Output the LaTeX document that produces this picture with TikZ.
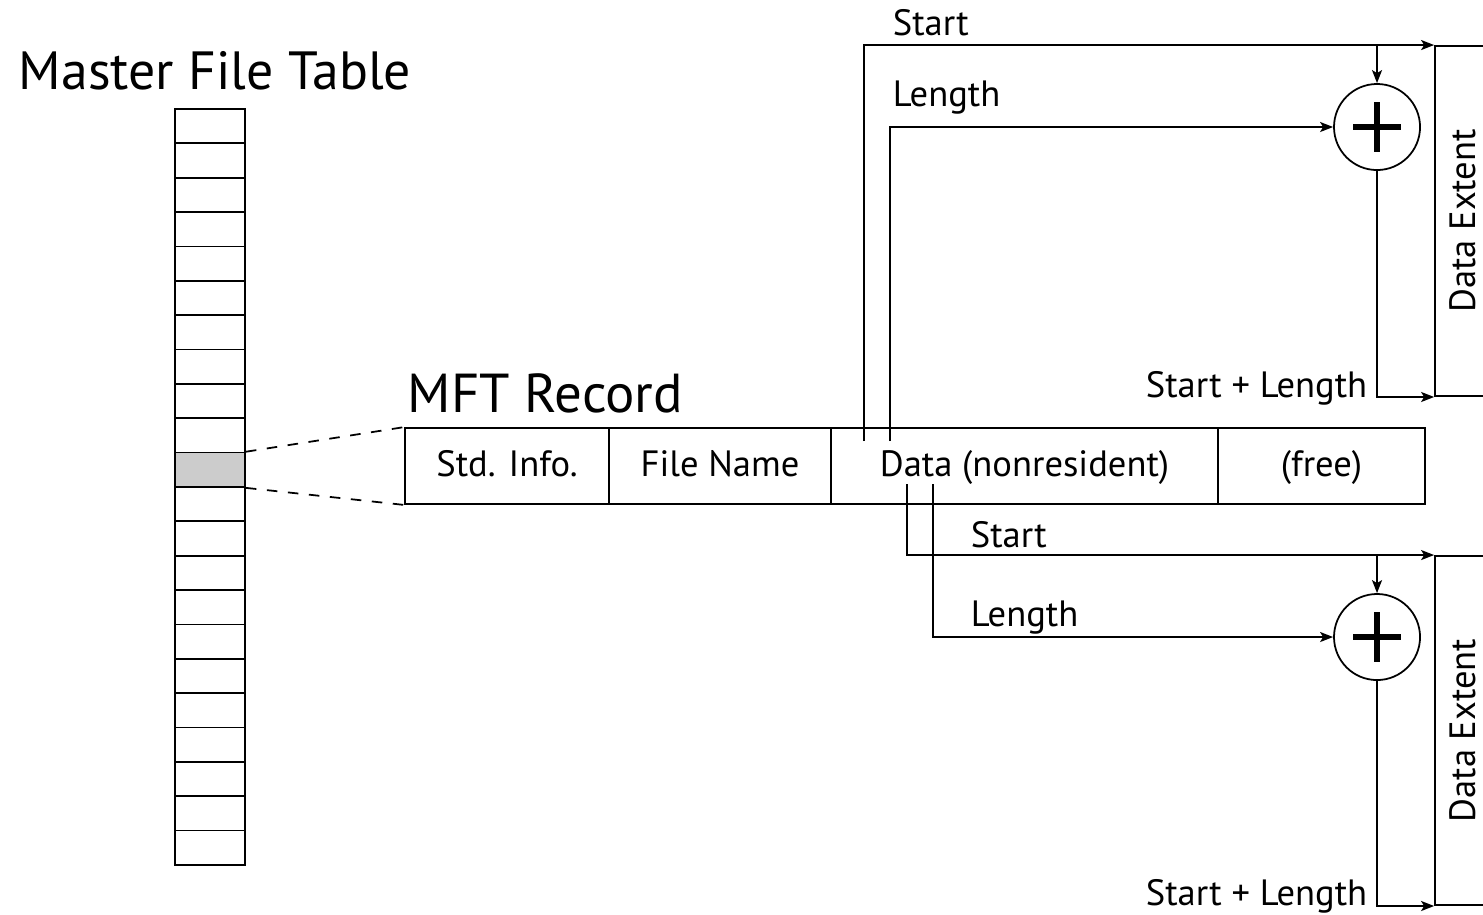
\documentclass[tikz,border=0pt]{standalone}
\usepackage{fontspec}
\setmainfont{PT Sans}
\usetikzlibrary{arrows.meta}

\begin{document}
\begin{tikzpicture}[x=0.01cm,y=-0.01cm,line width=0.5pt,
  cell/.style={draw,minimum width=0.7cm,minimum height=0.3436cm,inner sep=0},
  field/.style={draw,minimum height=0.76cm,inner sep=0,text height=0.7em,text depth=0.08em,font=\fontsize{10.4}{12}\selectfont},
  extent/.style={draw,minimum width=0.56cm,inner sep=0,font=\fontsize{10.4}{12}\selectfont},
  adder/.style={circle,draw,minimum size=0.86cm,inner sep=0},
  lbl/.style={inner sep=0,font=\fontsize{10.4}{12}\selectfont},
  arr/.style={-{Stealth[length=0.13cm,width=0.1cm,inset=0.03cm]}}]
\definecolor{chosen}{HTML}{CCCCCC}
\useasboundingbox (0,0) rectangle (1483,914);
\node[anchor=base west,inner sep=0,font=\fontsize{15.3}{18}\selectfont] (mfttitle) at (18,89) {Master File Table};
  \foreach \i in {0,...,21}
  {  \node[cell] (c\i) at (210,126.18+34.36*\i) {};}
\node[cell,fill=chosen] at (c10) {};
\node[anchor=base west,inner sep=0,font=\fontsize{15.6}{18}\selectfont] (rectitle) at (407,412) {MFT Record};
\node[field,minimum width=2.04cm] (std) at (507,466) {Std. Info.};
\node[field,minimum width=2.22cm] (fname) at (720,466) {File Name};
\node[field,minimum width=3.87cm] (data) at (1024.5,466) {Data (nonresident)};
\node[field,minimum width=2.07cm] (free) at (1321.5,466) {(free)};
\draw[dashed] (c10.north east) -- (std.north west);
\draw[dashed] (c10.south east) -- (std.south west);
\node[extent,minimum height=3.5cm] (ext1) at (1463,221) {\rotatebox{90}{Data Extent}};
\node[extent,minimum height=3.49cm] (ext2) at (1463,730.5) {\rotatebox{90}{Data Extent}};
\node[adder] (sum1) at (1377,127) {};
\node[adder] (sum2) at (1377,637) {};
  \foreach \a in {sum1,sum2}
  {  \draw[line width=1.5pt] (\a) ++(-24,0) -- ++(48,0) (\a) ++(0,-25) -- ++(0,50);}
\coordinate (s1) at (864,441);
\coordinate (l1) at (890,441);
\coordinate (s2) at (907,484);
\coordinate (l2) at (933,484);
\draw[arr] (s1) |- (ext1.north west);
\draw[arr] (l1) |- (sum1.west);
\draw[arr] (sum1 |- ext1.north west) -- (sum1.north);
\draw[arr] (sum1.south) |- (ext1.south west);
\draw[arr] (s2) |- (ext2.north west);
\draw[arr] (l2) |- (sum2.west);
\draw[arr] (sum2 |- ext2.north west) -- (sum2.north);
\draw[arr] (sum2.south) |- (ext2.south west);
\node[lbl,anchor=base west] (start1) at (892,35) {Start};
\node[lbl,anchor=base west] (len1) at (892,106) {Length};
\node[lbl,anchor=base east] (end1) at (1368,397) {Start + Length};
\node[lbl,anchor=base west] (start2) at (970,547) {Start};
\node[lbl,anchor=base west] (len2) at (970,626) {Length};
\node[lbl,anchor=base east] (end2) at (1368,905) {Start + Length};
\end{tikzpicture}
\end{document}
